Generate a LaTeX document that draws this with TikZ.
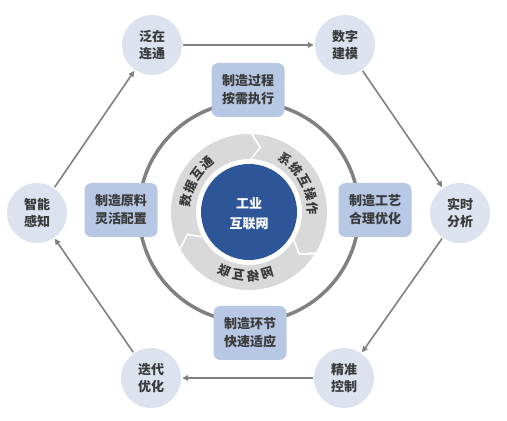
\documentclass[tikz,border=0pt]{standalone}
\usepackage{fontspec}
\usepackage{graphicx}
\setmainfont{Noto Sans CJK SC}
\usetikzlibrary{arrows.meta}
\definecolor{circfill}{HTML}{DCE3EF}
\definecolor{boxfill}{HTML}{B7C8E4}
\definecolor{txt}{HTML}{3A3A3A}
\definecolor{ringgray}{HTML}{808080}
\definecolor{segfill}{HTML}{D9D9D9}
\definecolor{core}{HTML}{2E5597}
\begin{document}
\begin{tikzpicture}[x=1pt,y=1pt,
  stage/.style={circle,fill=circfill,minimum size=60pt,inner sep=0pt,align=center,
    font=\fontsize{13}{17}\selectfont\bfseries,text=txt},
  boxnode/.style={rounded corners=7pt,fill=boxfill,minimum width=73pt,minimum height=54pt,
    inner sep=0pt,align=center,font=\fontsize{13}{18}\selectfont\bfseries,text=txt},
  flow/.style={draw=ringgray,line width=1.6pt,-{Triangle[length=6pt,width=5.5pt]},
    shorten >=1pt,shorten <=1pt},
  ringtxt/.style={font=\fontsize{12.5}{12.5}\selectfont\bfseries,text=txt,inner sep=0pt},
  coretxt/.style={font=\fontsize{13}{20}\selectfont\bfseries,text=white,align=center,inner sep=0pt}
]
\useasboundingbox (0,0) rectangle (507,421);

% outer cycle of stages
\node[stage] (fz) at (152,376) {泛在\\连通};
\node[stage] (sz) at (345,376) {数字\\建模};
\node[stage] (ss) at (460,208) {实时\\分析};
\node[stage] (jz) at (344,43)  {精准\\控制};
\node[stage] (dd) at (151,43)  {迭代\\优化};
\node[stage] (zn) at (37,208)  {智能\\感知};

\draw[flow] (zn) -- (fz);
\draw[flow] (fz) -- (sz);
\draw[flow] (sz) -- (ss);
\draw[flow] (ss) -- (jz);
\draw[flow] (jz) -- (dd);
\draw[flow] (dd) -- (zn);

% middle ring
\coordinate (C) at (249,209);
\draw[ringgray,line width=3.5pt] (C) circle (110);

\begin{scope}[shift={(249,209)}]
  \foreach \s in {88,-32,208}{
    \fill[segfill] ({\s-1}:78) arc[start angle=\s-1,end angle=\s-119,radius=78]
      -- ({\s-127}:65.5) -- ({\s-119}:53)
      arc[start angle=\s-119,end angle=\s-1,radius=53]
      -- ({\s-9}:65.5) -- cycle;
  }
  \fill[core] (0,0) circle (48);
  \foreach \c [count=\i] in {数,据,互,通}{
    \pgfmathsetmacro\a{169.5-13*(\i-1)}
    \node[ringtxt,rotate=\a-90] (ra\i) at (\a:64) {\c};
  }
  \foreach \c [count=\i] in {系,统,互,操,作}{
    \pgfmathsetmacro\a{55-13*(\i-1)}
    \node[ringtxt,rotate=\a-90] (rb\i) at (\a:64) {\c};
  }
  \foreach \c [count=\i] in {联,互,络,网}{
    \pgfmathsetmacro\a{247.5+13*(\i-1)}
    \node[ringtxt,rotate=\a-270] (rc\i) at (\a:64) {\scalebox{-1}[1]{\c}};
  }
\end{scope}

\node[coretxt] (core) at (249,207) {工业\\互联网};

% boxes on the ring
\node[boxnode] (b1) at (248,331) {制造过程\\按需执行};
\node[boxnode] (b2) at (375,211) {制造工艺\\合理优化};
\node[boxnode] (b3) at (250,88)  {制造环节\\快速适应};
\node[boxnode] (b4) at (121,211) {制造原料\\灵活配置};
\end{tikzpicture}
\end{document}
